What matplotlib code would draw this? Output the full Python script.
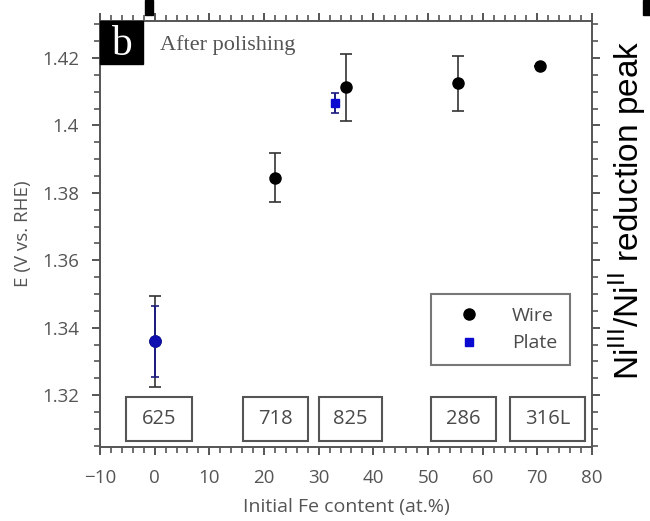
import matplotlib.pyplot as plt
from matplotlib.patches import Rectangle
from matplotlib.ticker import MultipleLocator

# data
wire_fe = [0, 22, 35, 55.5, 70.5]
wire_e = [1.336, 1.3845, 1.4113, 1.4125, 1.4175]
wire_err = [0.0135, 0.0072, 0.0099, 0.0082, 0.0]
plate_fe = [0, 33]
plate_e = [1.336, 1.4067]
plate_err = [0.0105, 0.003]
alloys = ['625', '718', '825', '286', '316L']

# layout of the alloy boxes (data coords)
box_left = [-5.2, 16.1, 30.0, 50.5, 65.0]
box_width = [12.0, 11.9, 11.6, 11.9, 13.7]

plt.rcParams['font.family'] = ['Open Sans', 'DejaVu Sans']
grey = '#555555'

fig = plt.figure(figsize=(6.5, 5.21), dpi=100)
ax = fig.add_axes([0.1538, 0.142, 0.757, 0.8177])

# wire: black circles, the one at 0 sits under the plate point
ax.errorbar(wire_fe, wire_e, yerr=wire_err, fmt='none', ecolor='#333333',
            elinewidth=1.2, capsize=4, capthick=1.2, zorder=2)
ax.plot(wire_fe, wire_e, 'o', color='black', ms=8, zorder=3, label='Wire')
ax.errorbar(plate_fe, plate_e, yerr=plate_err, fmt='none', ecolor='#1c1c80',
            elinewidth=1.4, capsize=3, capthick=1.2, zorder=4)
ax.plot(plate_fe[1:], plate_e[1:], 's', color='#0a0ad0', ms=6, zorder=5)
ax.plot(plate_fe[:1], plate_e[:1], 'o', color='#1010b0', ms=8, zorder=5)
ax.plot([], [], 's', color='#0a0ad0', ms=6, label='Plate')

ax.set_xlim(-10, 80)
ax.set_ylim(1.3046, 1.431)
ax.set_xticks(range(-10, 81, 10))
ax.set_yticks([1.32, 1.34, 1.36, 1.38, 1.4, 1.42])
ax.set_yticklabels(['1.32', '1.34', '1.36', '1.38', '1.4', '1.42'])
ax.xaxis.set_minor_locator(MultipleLocator(2))
ax.yaxis.set_minor_locator(MultipleLocator(0.005))
ax.tick_params(which='both', direction='out', top=True, right=True,
               colors=grey, labelsize=13.5, labelcolor=grey)
ax.tick_params(which='major', length=6, width=1.4)
ax.tick_params(which='minor', length=4, width=1.2)
ax.tick_params(axis='x', which='major', pad=10)
ax.tick_params(axis='y', which='major', pad=9)
ax.tick_params(labeltop=False, labelright=False)
for s in ax.spines.values():
    s.set_color(grey)
    s.set_linewidth(1.4)

ax.set_xlabel('Initial Fe content (at.%)', color=grey, fontsize=14, labelpad=8)
ax.set_ylabel('E (V vs. RHE)', color=grey, fontsize=13.5, labelpad=7)

for name, x0, w in zip(alloys, box_left, box_width):
    ax.add_patch(Rectangle((x0, 1.3065), w, 0.0129, fill=False,
                           edgecolor='#555555', lw=1.5, zorder=3))
    ax.text(x0 + w / 2, 1.31295, name, ha='center', va='center',
            fontsize=14.5, color='#4a4a4a')

leg = ax.legend(loc='lower right', bbox_to_anchor=(0.955, 0.1925),
                borderaxespad=0, fontsize=14, frameon=True, fancybox=False,
                edgecolor='#555555', labelcolor='#4a4a4a', handletextpad=0.9,
                borderpad=0.65, labelspacing=0.5, handlelength=2.6)
leg.get_frame().set_linewidth(1.5)

# panel tag
ax.add_patch(Rectangle((0, 0.9), 0.087, 0.1, transform=ax.transAxes,
                       color='black', zorder=6, clip_on=False))
ax.text(0.0435, 0.945, 'b', transform=ax.transAxes, ha='center', va='center',
        color='white', fontsize=30, family='Liberation Serif', zorder=7)
ax.text(0.122, 0.944, 'After polishing', transform=ax.transAxes, va='center',
        fontsize=16, color='#555555', family='Liberation Serif')

fig.text(0.964, 0.597, r'Ni$^{\mathrm{III}}$/Ni$^{\mathrm{II}}$ reduction peak',
         rotation=90, ha='center', va='center', fontsize=24,
         family='Liberation Sans')
fig.add_artist(Rectangle((145 / 650, 1 - 15 / 521), 8 / 650, 15 / 521,
                         transform=fig.transFigure, color='black'))
fig.add_artist(Rectangle((643 / 650, 1 - 15 / 521), 7 / 650, 15 / 521,
                         transform=fig.transFigure, color='black'))

fig.savefig('out.png', dpi=100)
